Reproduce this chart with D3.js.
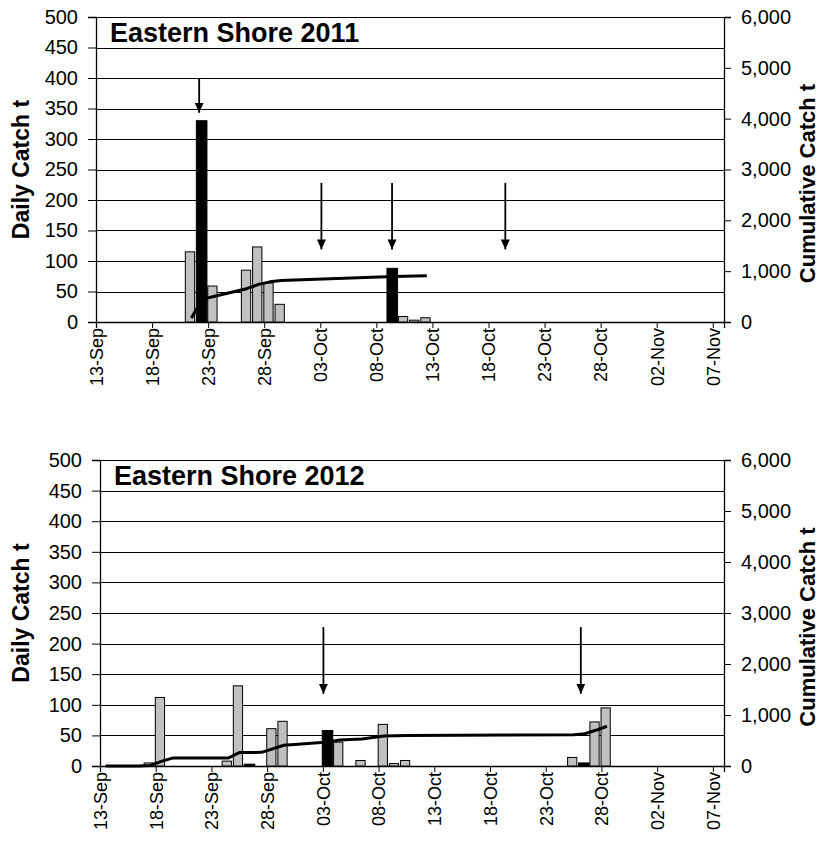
<!DOCTYPE html>
<html>
<head>
<meta charset="utf-8">
<script src="https://cdn.jsdelivr.net/npm/d3@7"></script>
<style>
  html, body { margin: 0; padding: 0; background: #fff; }
  svg { display: block; }
  text { font-family: "Liberation Sans", Arial, sans-serif; fill: #000; }
</style>
</head>
<body>
<svg id="chart" width="819" height="853"></svg>
<script>
// ---------------- DATA ----------------
const axisStart = "13-Sep";
const axisDays = 56;
const xTickLabels = ["13-Sep","18-Sep","23-Sep","28-Sep","03-Oct","08-Oct","13-Oct","18-Oct","23-Oct","28-Oct","02-Nov","07-Nov"];
const leftTicks = [0,50,100,150,200,250,300,350,400,450,500];
const rightTicks = [0,1000,2000,3000,4000,5000,6000];

// 2011
const title2011 = "Eastern Shore 2011";
const gray2011Dates  = ["21-Sep","23-Sep","26-Sep","27-Sep","28-Sep","29-Sep","10-Oct","11-Oct","12-Oct"];
const gray2011Values = [115, 59, 85, 123, 64, 29, 9, 3, 7];
const black2011Dates  = ["22-Sep","09-Oct"];
const black2011Values = [330, 88];
const cum2011Dates  = ["21-Sep","22-Sep","23-Sep","26-Sep","27-Sep","28-Sep","29-Sep","09-Oct","10-Oct","11-Oct","12-Oct"];
const cum2011Values = [80, 450, 500, 660, 740, 790, 815, 895, 902, 906, 912];
// arrows: position in days after 13-Sep, top and tip in daily-catch units
const arrow2011Days = [9.2, 20.1, 26.4, 36.5];
const arrow2011Top  = [400, 228, 228, 228];
const arrow2011Tip  = [343, 119, 119, 119];

// 2012
const title2012 = "Eastern Shore 2012";
const gray2012Dates  = ["17-Sep","18-Sep","24-Sep","25-Sep","28-Sep","29-Sep","04-Oct","06-Oct","08-Oct","09-Oct","10-Oct","25-Oct","27-Oct","28-Oct"];
const gray2012Values = [5, 112, 8, 131, 61, 73, 39, 9, 68, 4, 9, 14, 72, 95];
const black2012Dates  = ["26-Sep","03-Oct","26-Oct"];
const black2012Values = [3, 58, 5];
const cum2012Dates  = ["13-Sep","16-Sep","17-Sep","18-Sep","19-Sep","24-Sep","25-Sep","27-Sep","29-Sep","03-Oct","04-Oct","06-Oct","08-Oct","09-Oct","10-Oct","25-Oct","26-Oct","27-Oct","28-Oct"];
const cum2012Values = [0, 0, 10, 90, 155, 155, 263, 268, 406, 470, 510, 530, 588, 592, 598, 612, 632, 700, 780];
const arrow2012Days = [20.05, 43.15];
const arrow2012Top  = [227, 227];
const arrow2012Tip  = [118, 118];

// ---------------- HELPERS ----------------
const parse = d3.timeParse("%d-%b-%Y");
const startDate = parse(axisStart + "-2011");
const dayIndex = s => d3.timeDay.count(startDate, parse(s + "-2011"));
const zip = (ds, vs) => ds.map((d, i) => ({ day: dayIndex(d), value: vs[i] }));

const charts = [
  {
    title: title2011, left: 96, right: 724, top: 17, bottom: 322,
    gray: zip(gray2011Dates, gray2011Values),
    black: zip(black2011Dates, black2011Values),
    cum: zip(cum2011Dates, cum2011Values),
    arrows: arrow2011Days.map((d, i) => ({ day: d, top: arrow2011Top[i], tip: arrow2011Tip[i] }))
  },
  {
    title: title2012, left: 100, right: 724, top: 460, bottom: 766,
    gray: zip(gray2012Dates, gray2012Values),
    black: zip(black2012Dates, black2012Values),
    cum: zip(cum2012Dates, cum2012Values),
    arrows: arrow2012Days.map((d, i) => ({ day: d, top: arrow2012Top[i], tip: arrow2012Tip[i] }))
  }
];

const svg = d3.select("#chart");
const defs = svg.append("defs");
defs.append("marker")
  .attr("id", "ah").attr("viewBox", "0 0 10 10")
  .attr("refX", 10).attr("refY", 5)
  .attr("markerWidth", 10).attr("markerHeight", 10)
  .attr("markerUnits", "userSpaceOnUse")
  .attr("orient", "auto")
  .append("path").attr("d", "M0,0.5 L10,5 L0,9.5 Z").attr("fill", "#000");

charts.forEach(c => {
  const g = svg.append("g");
  const x = d3.scaleLinear().domain([0, axisDays]).range([c.left, c.right]);
  const y = d3.scaleLinear().domain([0, 500]).range([c.bottom, c.top]);
  const y2 = d3.scaleLinear().domain([0, 6000]).range([c.bottom, c.top]);
  const bw = x(1) - x(0);

  // gridlines
  g.append("g").selectAll("line").data(leftTicks).join("line")
    .attr("x1", c.left).attr("x2", c.right)
    .attr("y1", d => Math.round(y(d)) + 0.5).attr("y2", d => Math.round(y(d)) + 0.5)
    .attr("stroke", "#000").attr("stroke-width", 1);

  // left axis
  const la = g.append("g").attr("transform", `translate(${c.left},0)`)
    .call(d3.axisLeft(y).tickValues(leftTicks).tickSize(8).tickPadding(10).tickFormat(d3.format("d")));
  la.select(".domain").attr("stroke", "#000").attr("stroke-width", 1.3);
  la.selectAll("text").style("font-size", "20px").attr("font-family", null);
  la.selectAll(".tick line").attr("stroke", "#000");

  // right axis
  const ra = g.append("g").attr("transform", `translate(${c.right},0)`)
    .call(d3.axisRight(y2).tickValues(rightTicks).tickSize(7).tickPadding(10).tickFormat(d3.format(",")));
  ra.select(".domain").attr("stroke", "#000").attr("stroke-width", 1.3);
  ra.selectAll("text").style("font-size", "20px");
  ra.selectAll(".tick line").attr("stroke", "#000");

  // bottom axis: ticks every 5 days
  const tickDays = xTickLabels.map(dayIndex);
  const ba = g.append("g").attr("transform", `translate(0,${c.bottom})`)
    .call(d3.axisBottom(x).tickValues(tickDays).tickSize(6).tickFormat((d, i) => xTickLabels[i]));
  ba.select(".domain").attr("stroke", "#000").attr("stroke-width", 1.3);
  ba.selectAll(".tick line").attr("stroke", "#000");
  ba.selectAll("text")
    .style("font-size", "18px")
    .attr("text-anchor", "end")
    .attr("transform", "rotate(-90)")
    .attr("x", -6).attr("y", 0).attr("dy", "0.35em");

  // bars
  g.append("g").selectAll("rect").data(c.gray).join("rect")
    .attr("x", d => x(d.day) - 0.4)
    .attr("width", bw * 0.83)
    .attr("y", d => y(d.value))
    .attr("height", d => y(0) - y(d.value))
    .attr("fill", "#c0c0c0").attr("stroke", "#000").attr("stroke-width", 1);
  g.append("g").selectAll("rect").data(c.black).join("rect")
    .attr("x", d => x(d.day) - 0.6)
    .attr("width", bw - 0.6)
    .attr("y", d => y(d.value))
    .attr("height", d => y(0) - y(d.value))
    .attr("fill", "#000").attr("stroke", "#000").attr("stroke-width", 1);

  // cumulative line
  const line = d3.line().x(d => x(d.day + 0.5)).y(d => y2(d.value));
  g.append("path").datum(c.cum).attr("d", line)
    .attr("fill", "none").attr("stroke", "#000").attr("stroke-width", 3)
    .attr("stroke-linejoin", "round");

  // arrows
  g.append("g").selectAll("line").data(c.arrows).join("line")
    .attr("x1", d => x(d.day)).attr("x2", d => x(d.day))
    .attr("y1", d => y(d.top)).attr("y2", d => y(d.tip))
    .attr("stroke", "#000").attr("stroke-width", 1.8)
    .attr("marker-end", "url(#ah)");

  // title
  g.append("text").attr("x", c.left + 14).attr("y", c.top + 25)
    .attr("font-weight", "bold").style("font-size", "27px").text(c.title);

  // axis titles
  const midY = (c.top + c.bottom) / 2;
  g.append("text").attr("transform", `translate(29,${midY}) rotate(-90)`)
    .attr("text-anchor", "middle").attr("font-weight", "bold").style("font-size", "23px")
    .text("Daily Catch t");
  g.append("text").attr("transform", `translate(815,${midY + 14}) rotate(-90)`)
    .attr("text-anchor", "middle").attr("font-weight", "bold").style("font-size", "22px")
    .text("Cumulative Catch t");
});
</script>
</body>
</html>
